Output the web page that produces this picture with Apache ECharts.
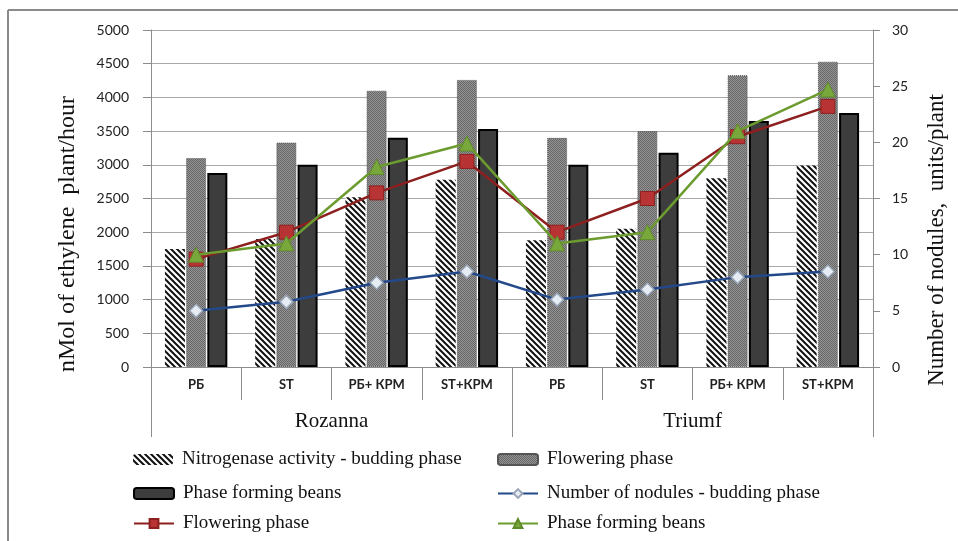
<!DOCTYPE html>
<html>
<head>
<meta charset="utf-8">
<script src="https://cdn.jsdelivr.net/npm/echarts@6/dist/echarts.min.js"></script>
<style>
  html, body { margin: 0; padding: 0; background: #fff; }
  #chart { width: 958px; height: 541px; }
</style>
</head>
<body>
<div id="chart"></div>
<script>
// Treatments per variety and the two varieties
const categories = ['РБ', 'ST', 'РБ+ КРМ', 'ST+КРМ', 'РБ', 'ST', 'РБ+ КРМ', 'ST+КРМ'];
const varieties = ['Rozanna', 'Triumf'];

// Nitrogenase activity, nMol of ethylene plant/hour
const nitroBudding   = [1750, 1900, 2520, 2780, 1880, 2050, 2800, 2990];
const nitroFlowering = [3100, 3330, 4100, 4260, 3400, 3500, 4330, 4530];
const nitroBeans     = [2880, 3000, 3400, 3530, 3000, 3180, 3650, 3770];

// Number of nodules, units/plant
const nodBudding   = [5.0, 5.8, 7.5, 8.5, 6.0, 6.9, 8.0, 8.5];
const nodFlowering = [9.6, 12.0, 15.5, 18.3, 12.0, 15.0, 20.5, 23.2];
const nodBeans     = [10.0, 11.0, 17.8, 19.9, 11.0, 12.0, 21.0, 24.7];

const leftTicks = { min: 0, max: 5000, interval: 500 };
const rightTicks = { min: 0, max: 30, interval: 5 };

// Display text for each series key
const legendText = {
  nitroBud: 'Nitrogenase activity - budding phase',
  nitroFlow: 'Flowering phase',
  nitroBean: 'Phase forming beans',
  nodBud: 'Number of nodules - budding phase',
  nodFlow: 'Flowering phase',
  nodBean: 'Phase forming beans'
};

// Diagonal hatch fill
function hatchPattern() {
  const c = document.createElement('canvas');
  c.width = 6; c.height = 6;
  const g = c.getContext('2d');
  g.fillStyle = '#fff'; g.fillRect(0, 0, 6, 6);
  g.strokeStyle = '#111'; g.lineWidth = 2;
  g.beginPath();
  g.moveTo(-1, -1); g.lineTo(7, 7);
  g.moveTo(-4, 2); g.lineTo(4, 10);
  g.moveTo(2, -4); g.lineTo(10, 4);
  g.stroke();
  return c;
}
// Fine grey stipple fill
function stipplePattern() {
  const c = document.createElement('canvas');
  c.width = 2; c.height = 2;
  const g = c.getContext('2d');
  g.fillStyle = '#959595'; g.fillRect(0, 0, 2, 2);
  g.fillStyle = '#666'; g.fillRect(0, 0, 1, 1); g.fillRect(1, 1, 1, 1);
  return c;
}

const serif = '"Liberation Serif", "DejaVu Serif", serif';
const sans = 'Lato, "Open Sans", sans-serif';
const axisGrey = '#8c8c8c';

function legendAt(name, left, top) {
  return {
    data: [name], left: left, top: top, padding: 0,
    itemWidth: 40, itemHeight: 11, selectedMode: false,
    formatter: n => legendText[n],
    textStyle: { fontFamily: serif, fontSize: 19, color: '#111', padding: [0, 0, 0, 4] }
  };
}

const chart = echarts.init(document.getElementById('chart'), null, { renderer: 'canvas' });

chart.setOption({
  animation: false,
  backgroundColor: '#fff',
  grid: { left: 151, right: 85, top: 30, bottom: 174, containLabel: false },
  legend: [
    legendAt('nitroBud', 133, 450),
    legendAt('nitroBean', 133, 484),
    legendAt('nodFlow', 133, 514),
    legendAt('nitroFlow', 497, 450),
    legendAt('nodBud', 497, 484),
    legendAt('nodBean', 497, 514)
  ],
  xAxis: [
    {
      type: 'category', data: categories, position: 'bottom',
      axisLine: { show: true, lineStyle: { color: axisGrey, width: 1 } },
      axisTick: { show: true, length: 33, interval: 0, lineStyle: { color: axisGrey } },
      axisLabel: { interval: 0, margin: 11, fontFamily: sans, fontSize: 13, fontWeight: 'bold', color: '#222' }
    },
    {
      type: 'category', data: varieties, position: 'bottom',
      axisLine: { show: true, lineStyle: { color: axisGrey, width: 1 } },
      axisTick: { show: true, length: 70, interval: 0, lineStyle: { color: axisGrey } },
      axisLabel: { margin: 44, fontFamily: serif, fontSize: 21, color: '#111' }
    }
  ],
  yAxis: [
    {
      type: 'value', position: 'left',
      min: leftTicks.min, max: leftTicks.max, interval: leftTicks.interval,
      axisLine: { show: true, lineStyle: { color: axisGrey } },
      axisTick: { show: true, length: 8, lineStyle: { color: axisGrey } },
      axisLabel: { margin: 22, fontFamily: sans, fontSize: 14, color: '#222', formatter: v => String(v) },
      splitLine: { show: true, lineStyle: { color: '#a9a9a9', width: 1.2 } }
    },
    {
      type: 'value', position: 'right',
      min: rightTicks.min, max: rightTicks.max, interval: rightTicks.interval,
      axisLine: { show: true, lineStyle: { color: axisGrey } },
      axisTick: { show: true, length: 7, lineStyle: { color: axisGrey } },
      axisLabel: { margin: 19, fontFamily: sans, fontSize: 14, color: '#222', formatter: v => String(v) },
      splitLine: { show: false }
    }
  ],
  series: [
    {
      name: 'nitroBud', type: 'bar', data: nitroBudding, barWidth: 20, barGap: '6%',
      itemStyle: { color: { image: hatchPattern(), repeat: 'repeat' } }
    },
    {
      name: 'nitroFlow', type: 'bar', data: nitroFlowering, barWidth: 20, barGap: '6%',
      itemStyle: { color: { image: stipplePattern(), repeat: 'repeat' }, borderColor: '#555', borderWidth: 1, borderType: 'dotted' }
    },
    {
      name: 'nitroBean', type: 'bar', data: nitroBeans, barWidth: 20, barGap: '6%',
      itemStyle: { color: '#3d3d3d', borderColor: '#000', borderWidth: 2 }
    },
    {
      name: 'nodBud', type: 'line', yAxisIndex: 1, data: nodBudding, z: 5,
      symbol: 'diamond', symbolSize: 13,
      lineStyle: { color: '#23498a', width: 2.5 },
      itemStyle: { color: '#e6ecf4', borderColor: '#9aa6b8', borderWidth: 1.5 }
    },
    {
      name: 'nodFlow', type: 'line', yAxisIndex: 1, data: nodFlowering, z: 6,
      symbol: 'rect', symbolSize: 14,
      lineStyle: { color: '#8e1f1f', width: 2.5 },
      itemStyle: { color: '#b83434', borderColor: '#8e1f1f', borderWidth: 1 }
    },
    {
      name: 'nodBean', type: 'line', yAxisIndex: 1, data: nodBeans, z: 7,
      symbol: 'triangle', symbolSize: 15,
      lineStyle: { color: '#6c9b30', width: 2.5 },
      itemStyle: { color: '#78a83c', borderColor: '#5f8a28', borderWidth: 1 }
    }
  ],
  graphic: [
    // Frame edges
    { type: 'line', shape: { x1: 8, y1: 10, x2: 958, y2: 10 }, style: { stroke: '#8a8a8a', lineWidth: 2 } },
    { type: 'line', shape: { x1: 8, y1: 10, x2: 8, y2: 541 }, style: { stroke: '#8a8a8a', lineWidth: 2 } },
    // Axis titles
    {
      type: 'text', x: 68, y: 234, rotation: Math.PI / 2,
      style: { text: 'nMol of ethylene  plant/hour', font: '24px ' + serif, fill: '#111', align: 'center', verticalAlign: 'middle' }
    },
    {
      type: 'text', x: 937, y: 240, rotation: Math.PI / 2,
      style: { text: 'Number of nodules,  units/plant', font: '23px ' + serif, fill: '#111', align: 'center', verticalAlign: 'middle' }
    }
  ]
});
</script>
</body>
</html>
